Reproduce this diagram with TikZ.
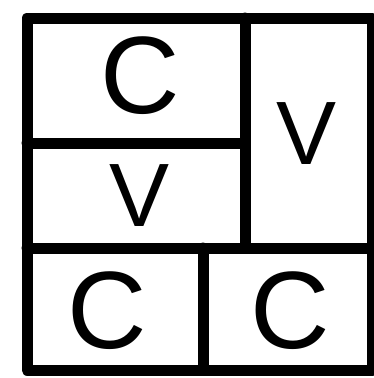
\documentclass[tikz,border=0pt]{standalone}
\usepackage{fontspec}
\setsansfont{Liberation Sans}
\usetikzlibrary{positioning}

\begin{document}
\begin{tikzpicture}[
  x=1pt, y=-1pt,
  wall/.style={line width=11pt, line cap=round, line join=round},
  letter/.style={inner sep=0pt, font=\sffamily\fontsize{110}{110}\selectfont},
  letterv/.style={inner sep=0pt, font=\sffamily\fontsize{90}{90}\selectfont},
]
  \useasboundingbox (0,0) rectangle (374,378);
  % frame and walls
  \draw[wall] (27,18) rectangle (372,370);
  \draw[wall] (245,18) -- (245,248);
  \draw[wall] (27,143) -- (245,143);
  \draw[wall] (27,248) -- (372,248);
  \draw[wall] (203,248) -- (203,370);
  % letters
  \node[letter]  (topC)   at (140,76)  {C};
  \node[letterv] (rightV) at (307,134) {V};
  \node[letterv] (midV)   at (140,196) {V};
  \node[letter]  (botlC)  at (107,311) {C};
  \node[letter]  (botrC)  at (290,311) {C};
\end{tikzpicture}
\end{document}
